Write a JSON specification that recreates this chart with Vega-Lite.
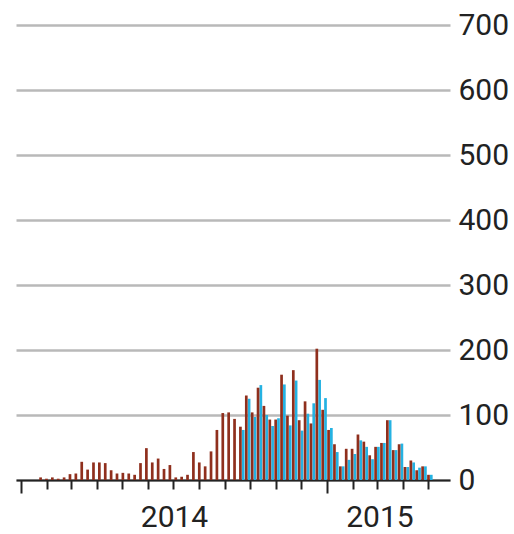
{
  "$schema": "https://vega.github.io/schema/vega-lite/v6.json",
  "width": 434,
  "height": 455,
  "autosize": {"type": "none"},
  "padding": {"left": 16, "top": 25, "right": 64, "bottom": 54},
  "background": "white",
  "config": {"view": {"stroke": null}, "font": "Roboto"},
  "datasets": {
    "weekly": [
      {"week": "2014-01-26", "red": 4, "blue": null},
      {"week": "2014-02-02", "red": 2, "blue": null},
      {"week": "2014-02-09", "red": 4, "blue": null},
      {"week": "2014-02-16", "red": 2, "blue": null},
      {"week": "2014-02-23", "red": 4, "blue": null},
      {"week": "2014-03-02", "red": 9, "blue": null},
      {"week": "2014-03-09", "red": 10, "blue": null},
      {"week": "2014-03-16", "red": 28, "blue": null},
      {"week": "2014-03-23", "red": 16, "blue": null},
      {"week": "2014-03-30", "red": 27, "blue": null},
      {"week": "2014-04-06", "red": 27, "blue": null},
      {"week": "2014-04-13", "red": 26, "blue": null},
      {"week": "2014-04-20", "red": 15, "blue": null},
      {"week": "2014-04-27", "red": 10, "blue": null},
      {"week": "2014-05-04", "red": 11, "blue": null},
      {"week": "2014-05-11", "red": 10, "blue": null},
      {"week": "2014-05-18", "red": 8, "blue": null},
      {"week": "2014-05-25", "red": 26, "blue": null},
      {"week": "2014-06-01", "red": 49, "blue": null},
      {"week": "2014-06-08", "red": 27, "blue": null},
      {"week": "2014-06-15", "red": 33, "blue": null},
      {"week": "2014-06-22", "red": 17, "blue": null},
      {"week": "2014-06-29", "red": 23, "blue": null},
      {"week": "2014-07-06", "red": 4, "blue": null},
      {"week": "2014-07-13", "red": 5, "blue": null},
      {"week": "2014-07-20", "red": 8, "blue": null},
      {"week": "2014-07-27", "red": 43, "blue": null},
      {"week": "2014-08-03", "red": 27, "blue": null},
      {"week": "2014-08-10", "red": 21, "blue": null},
      {"week": "2014-08-17", "red": 44, "blue": null},
      {"week": "2014-08-24", "red": 77, "blue": null},
      {"week": "2014-08-31", "red": 103, "blue": null},
      {"week": "2014-09-07", "red": 104, "blue": null},
      {"week": "2014-09-14", "red": 94, "blue": null},
      {"week": "2014-09-21", "red": 82, "blue": 77},
      {"week": "2014-09-28", "red": 130, "blue": 125},
      {"week": "2014-10-05", "red": 104, "blue": 97},
      {"week": "2014-10-12", "red": 142, "blue": 146},
      {"week": "2014-10-19", "red": 114, "blue": 100},
      {"week": "2014-10-26", "red": 93, "blue": 83},
      {"week": "2014-11-02", "red": 93, "blue": 95},
      {"week": "2014-11-09", "red": 162, "blue": 147},
      {"week": "2014-11-16", "red": 99, "blue": 84},
      {"week": "2014-11-23", "red": 169, "blue": 153},
      {"week": "2014-11-30", "red": 92, "blue": 76},
      {"week": "2014-12-07", "red": 121, "blue": 102},
      {"week": "2014-12-14", "red": 87, "blue": 118},
      {"week": "2014-12-21", "red": 202, "blue": 154},
      {"week": "2014-12-28", "red": 108, "blue": 126},
      {"week": "2015-01-04", "red": 77, "blue": 80},
      {"week": "2015-01-11", "red": 55, "blue": 43},
      {"week": "2015-01-18", "red": 21, "blue": 21},
      {"week": "2015-01-25", "red": 48, "blue": 31},
      {"week": "2015-02-01", "red": 48, "blue": 40},
      {"week": "2015-02-08", "red": 70, "blue": 61},
      {"week": "2015-02-15", "red": 59, "blue": 51},
      {"week": "2015-02-22", "red": 38, "blue": 32},
      {"week": "2015-03-01", "red": 51, "blue": 51},
      {"week": "2015-03-08", "red": 57, "blue": 57},
      {"week": "2015-03-15", "red": 92, "blue": 92},
      {"week": "2015-03-22", "red": 46, "blue": 46},
      {"week": "2015-03-29", "red": 55, "blue": 56},
      {"week": "2015-04-05", "red": 20, "blue": 20},
      {"week": "2015-04-12", "red": 30, "blue": 27},
      {"week": "2015-04-19", "red": 15, "blue": 19},
      {"week": "2015-04-26", "red": 21, "blue": 21},
      {"week": "2015-05-03", "red": 8, "blue": 8}
    ]
  },
  "data": {"name": "weekly"},
  "encoding": {
    "x": {
      "field": "week",
      "type": "temporal",
      "scale": {
        "type": "utc",
        "domain": [
          {"year": 2014, "month": 1, "date": 1, "utc": true},
          {"year": 2015, "month": 5, "date": 21, "utc": true}
        ]
      },
      "axis": {
        "title": null,
        "grid": false,
        "tickCount": {"interval": "month", "step": 1},
        "domainColor": "#222222",
        "domainWidth": 2,
        "tickColor": "#222222",
        "tickWidth": 2,
        "tickSize": {"condition": {"test": "utcmonth(datum.value) == 0", "value": 13}, "value": 9},
        "labelExpr": "utcmonth(datum.value) == 0 ? utcyear(datum.value) : ''",
        "labelOffset": {"condition": {"test": "utcyear(datum.value) == 2014", "value": 153}, "value": 52},
        "labelFlush": false,
        "labelOverlap": false,
        "labelBound": false,
        "labelFontSize": 30,
        "labelColor": "#222222",
        "labelPadding": 9,
        "labelFont": "Roboto"
      }
    }
  },
  "layer": [
    {
      "mark": {"type": "bar", "color": "#25b2e2", "width": 2.7, "xOffset": 1.4},
      "encoding": {
        "y": {
          "field": "blue",
          "type": "quantitative",
          "scale": {"domain": [0, 700], "nice": false},
          "axis": {
            "title": null,
            "orient": "right",
            "values": [0, 100, 200, 300, 400, 500, 600, 700],
            "grid": true,
            "gridColor": "#b9b9b9",
            "gridWidth": 2.5,
            "domain": false,
            "ticks": false,
            "labelFontSize": 30,
            "labelColor": "#222222",
            "labelPadding": 8,
            "labelFont": "Roboto"
          }
        }
      }
    },
    {
      "mark": {"type": "bar", "color": "#8f2f1d", "width": 2.7, "xOffset": -1.4},
      "encoding": {
        "y": {"field": "red", "type": "quantitative"}
      }
    }
  ]
}
